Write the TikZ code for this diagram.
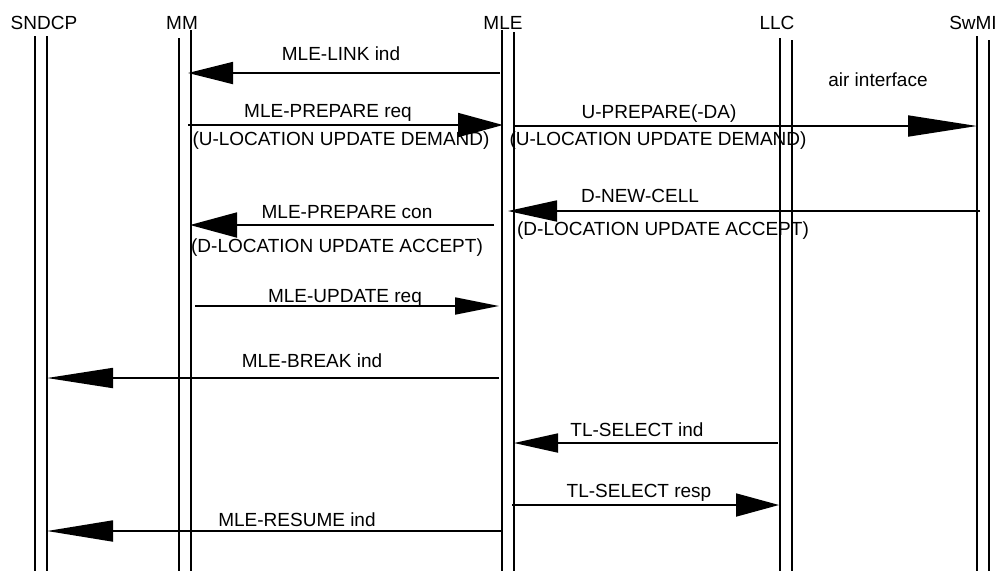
\documentclass[tikz,border=0pt]{standalone}
\usepackage{fontspec}
\setmainfont{Liberation Sans}
\usetikzlibrary{arrows.meta}
\tikzset{
  life/.style={line width=1.8pt},
  msg/.style={line width=1.8pt},
  hd/.style={anchor=base, inner sep=0pt, font=\fontsize{19}{22}\selectfont},
  lbl/.style={anchor=base, inner sep=0pt, font=\fontsize{19}{22}\selectfont},
}
\newcommand{\tipof}[2]{-{Triangle[length=#1pt,width=#2pt]}}
\begin{document}
\begin{tikzpicture}[x=1pt,y=-1pt]
\useasboundingbox (0,0) rectangle (1001,571);
% headers
\node[hd] (hsndcp) at (44,29) {SNDCP};
\node[hd] (hmm) at (182,29) {MM};
\node[hd] (hmle) at (503,29) {MLE};
\node[hd] (hllc) at (777,29) {LLC};
\node[hd] (hswmi) at (973,29) {SwMI};
% lifelines
\coordinate (s1t) at (35,36);  \coordinate (s1b) at (35,571);
\coordinate (s2t) at (47,36);  \coordinate (s2b) at (47,571);
\coordinate (m1t) at (179,38); \coordinate (m1b) at (179,571);
\coordinate (m2t) at (191,30); \coordinate (m2b) at (191,571);
\coordinate (e1t) at (502,30); \coordinate (e1b) at (502,571);
\coordinate (e2t) at (514,32); \coordinate (e2b) at (514,571);
\coordinate (l1t) at (780,38); \coordinate (l1b) at (780,571);
\coordinate (l2t) at (792,40); \coordinate (l2b) at (792,571);
\coordinate (w1t) at (977,36); \coordinate (w1b) at (977,571);
\coordinate (w2t) at (989,40); \coordinate (w2b) at (989,571);
\foreach \a in {s1,s2,m1,m2,e1,e2,l1,l2,w1,w2} \draw[life] (\a t) -- (\a b);
% message endpoints
\coordinate (a1s) at (500,73);  \coordinate (a1e) at (188,73);
\coordinate (a2s) at (188,125); \coordinate (a2e) at (503,125);
\coordinate (a3s) at (515,126); \coordinate (a3e) at (977,126);
\coordinate (a4s) at (980,211); \coordinate (a4e) at (508,211);
\coordinate (a5s) at (494,225); \coordinate (a5e) at (190,225);
\coordinate (a6s) at (195,306); \coordinate (a6e) at (499,306);
\coordinate (a7s) at (499,378); \coordinate (a7e) at (47,378);
\coordinate (a8s) at (778,443); \coordinate (a8e) at (514,443);
\coordinate (a9s) at (512,505); \coordinate (a9e) at (779,505);
\coordinate (a10s) at (502,531); \coordinate (a10e) at (47,531);
\draw[msg,\tipof{45}{22}] (a1s) -- (a1e);
\draw[msg,\tipof{45}{24}] (a2s) -- (a2e);
\draw[msg,\tipof{69}{21}] (a3s) -- (a3e);
\draw[msg,\tipof{49}{21}] (a4s) -- (a4e);
\draw[msg,\tipof{47}{25}] (a5s) -- (a5e);
\draw[msg,\tipof{44}{17}] (a6s) -- (a6e);
\draw[msg,\tipof{66}{20}] (a7s) -- (a7e);
\draw[msg,\tipof{44}{19}] (a8s) -- (a8e);
\draw[msg,\tipof{43}{23}] (a9s) -- (a9e);
\draw[msg,\tipof{66}{21}] (a10s) -- (a10e);
% labels
\node[lbl] (t1) at (341,60) {MLE-LINK ind};
\node[lbl] (t2) at (328,117) {MLE-PREPARE req};
\node[lbl] (t2b) at (341,145) {(U-LOCATION UPDATE DEMAND)};
\node[lbl] (t3) at (659,118) {U-PREPARE(-DA)};
\node[lbl] (t3b) at (658,145) {(U-LOCATION UPDATE DEMAND)};
\node[lbl] (tair) at (878,86) {air interface};
\node[lbl] (t4) at (640,202) {D-NEW-CELL};
\node[lbl] (t4b) at (663,235) {(D-LOCATION UPDATE ACCEPT)};
\node[lbl] (t5) at (347,218) {MLE-PREPARE con};
\node[lbl] (t5b) at (337,252) {(D-LOCATION UPDATE ACCEPT)};
\node[lbl] (t6) at (345,302) {MLE-UPDATE req};
\node[lbl] (t7) at (312,367) {MLE-BREAK ind};
\node[lbl] (t8) at (637,436) {TL-SELECT ind};
\node[lbl] (t9) at (639,497) {TL-SELECT resp};
\node[lbl] (t10) at (297,526) {MLE-RESUME ind};
\end{tikzpicture}
\end{document}
